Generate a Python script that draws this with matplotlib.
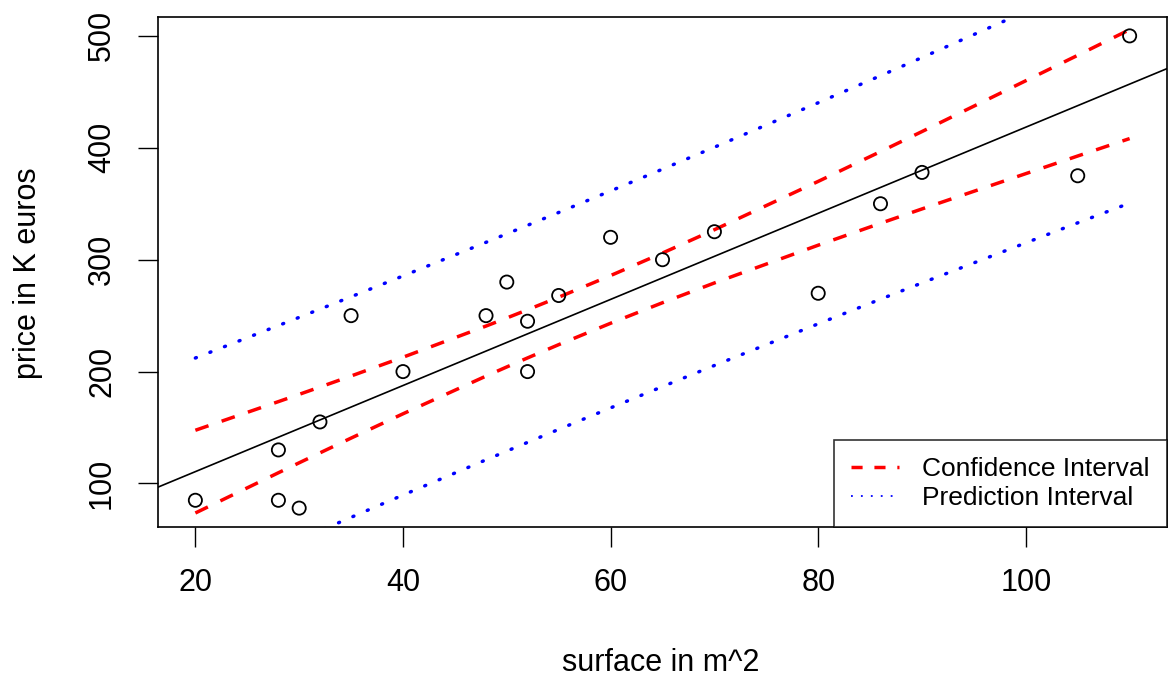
import matplotlib
matplotlib.use("Agg")
import matplotlib.pyplot as plt
from matplotlib.lines import Line2D
import numpy as np

#%% data
surface = np.array([20, 28, 28, 30, 32, 35, 40, 48, 50, 52, 52, 55, 60, 65, 70, 80, 86, 90, 105, 110])
price = np.array([85, 130, 85, 78, 155, 250, 200, 250, 280, 245, 200, 268, 320, 300, 325, 270, 350, 378, 375, 500])
xticks = [20, 40, 60, 80, 100]
yticks = [100, 200, 300, 400, 500]

#%% linear fit with confidence / prediction intervals (as lm + predict)
def fit_intervals(x, y, xnew, tq=2.100922):
    n = len(x)
    X = np.column_stack([np.ones(n), x])
    beta, *_ = np.linalg.lstsq(X, y, rcond=None)
    resid = y - X @ beta
    s2 = resid @ resid / (n - 2)
    xtx_inv = np.linalg.inv(X.T @ X)
    Xn = np.column_stack([np.ones(len(xnew)), xnew])
    fit = Xn @ beta
    h = np.einsum("ij,jk,ik->i", Xn, xtx_inv, Xn)
    se_conf = np.sqrt(s2 * h)
    se_pred = np.sqrt(s2 * (1 + h))
    return beta, fit - tq * se_conf, fit + tq * se_conf, fit - tq * se_pred, fit + tq * se_pred

xs = np.unique(surface)
beta, clo, chi, plo, phi = fit_intervals(surface, price, xs)

plt.rcParams['font.family'] = ['Liberation Sans', 'DejaVu Sans']
W, H = 1173, 679
fig = plt.figure(figsize=(W / 100, H / 100), dpi=100)
ax = fig.add_axes([158 / W, 1 - 527 / H, 1009 / W, 510 / H])

ax.scatter(surface, price, s=90, facecolors='none', edgecolors='black', linewidths=1.3, zorder=3)

xr = np.array([0, 130])
ax.plot(xr, beta[0] + beta[1] * xr, color='black', lw=1.2)
red_ls = (0, (4, 4))
blue_ls = (0, (0.3, 4.2))
ax.plot(xs, clo, color='red', lw=2.5, ls=red_ls)
ax.plot(xs, chi, color='red', lw=2.5, ls=red_ls)
ax.plot(xs, plo, color='blue', lw=2.5, ls=blue_ls, dash_capstyle='round')
ax.plot(xs, phi, color='blue', lw=2.5, ls=blue_ls, dash_capstyle='round')

xpad = 0.04 * (surface.max() - surface.min())
ypad = 0.04 * (price.max() - price.min())
ax.set_xlim(surface.min() - xpad, surface.max() + xpad)
ax.set_ylim(price.min() - ypad, price.max() + ypad)

ax.set_xticks(xticks)
ax.set_yticks(yticks)
ax.set_yticklabels([str(v) for v in yticks], rotation=90, va='center')
ax.tick_params(direction='out', length=14.5, width=1, labelsize=22, pad=15)
for sp in ax.spines.values():
    sp.set_linewidth(1.2)

fig.text(661 / W, 1 - 663 / H, 'surface in m^2', fontsize=22, ha='center', va='center')
fig.text(28 / W, 1 - 273 / H, 'price in K euros', fontsize=22, ha='center', va='center', rotation=90)

handles = [Line2D([], [], color='red', lw=2.5, ls=(0, (3.2, 3.4))),
           Line2D([], [], color='blue', lw=1.3, ls=(0, (1, 4.5)))]
leg = ax.legend(handles, ['Confidence Interval', 'Prediction Interval'], loc='lower right',
                fontsize=19, frameon=True, fancybox=False, edgecolor='black',
                borderaxespad=0, handlelength=1.8, handletextpad=0.9, borderpad=0.65,
                labelspacing=0.18)
leg.get_frame().set_linewidth(1.2)

fig.savefig('out.png', dpi=100)
